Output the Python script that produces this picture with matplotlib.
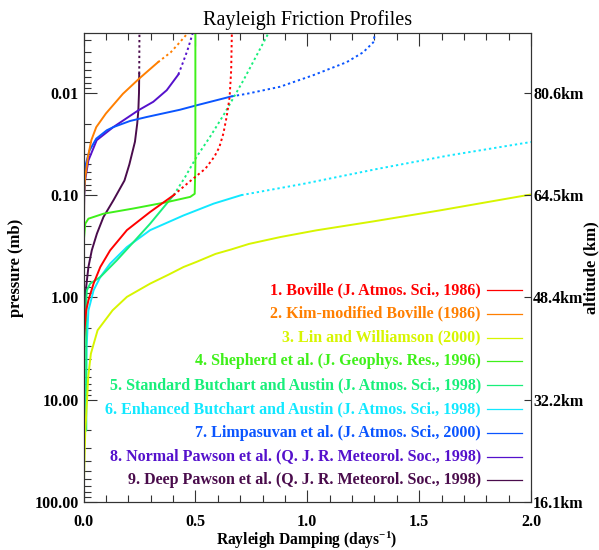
import numpy as np
import matplotlib
matplotlib.use("Agg")
import matplotlib.pyplot as plt
from matplotlib.ticker import LogLocator, FuncFormatter, NullFormatter, MultipleLocator

plt.rcParams['font.family'] = ['Liberation Serif', 'DejaVu Serif']
plt.rcParams['mathtext.fontset'] = 'custom'
plt.rcParams['mathtext.rm'] = 'Liberation Serif:bold'
plt.rcParams['mathtext.it'] = 'Liberation Serif:bold'
plt.rcParams['mathtext.bf'] = 'Liberation Serif:bold'

# ---- profiles: pressure (mb) and damping rate (1/day) ----
# each profile is solid below its model top and dotted above it
labels = [
    "1. Boville (J. Atmos. Sci., 1986)",
    "2. Kim-modified Boville (1986)",
    "3. Lin and Williamson (2000)",
    "4. Shepherd et al. (J. Geophys. Res., 1996)",
    "5. Standard Butchart and Austin (J. Atmos. Sci., 1998)",
    "6. Enhanced Butchart and Austin (J. Atmos. Sci., 1998)",
    "7. Limpasuvan et al. (J. Atmos. Sci., 2000)",
    "8. Normal Pawson et al. (Q. J. R. Meteorol. Soc., 1998)",
    "9. Deep Pawson et al. (Q. J. R. Meteorol. Soc., 1998)",
]
colors = ['#ff0000', '#ff7f00', '#d7f500', '#3ff01a', '#18ef7a',
          '#12e8ff', '#0a55ff', '#5511cc', '#4a0c4c']

p_boville = [100, 10, 3, 2, 1.34, 1.07, 0.734, 0.505, 0.347, 0.22, 0.146, 0.1,
             0.075, 0.055, 0.042, 0.034, 0.025, 0.017, 0.011, 0.006, 0.00261]
d_boville = [0, 0, 0, 0.005, 0.012, 0.022, 0.045, 0.075, 0.119, 0.194, 0.298, 0.403,
             0.47, 0.545, 0.585, 0.607, 0.625, 0.64, 0.653, 0.66, 0.663]
top_boville = 0.1

p_kim = [100, 1, 0.2, 0.1, 0.072, 0.042, 0.029, 0.0216, 0.0159, 0.0102, 0.0072,
         0.005, 0.004, 0.0032, 0.00261]
d_kim = [0, 0, 0.002, 0.003, 0.006, 0.02, 0.035, 0.057, 0.10, 0.176, 0.25,
         0.333, 0.39, 0.43, 0.465]
top_kim = 0.005

p_lin = [100, 50, 20, 10, 8.1, 6.0, 3.56, 2.1, 1.34, 0.99, 0.734, 0.6, 0.505,
         0.45, 0.376, 0.34, 0.3, 0.257, 0.221, 0.18, 0.141, 0.0985]
d_lin = [0.001, 0.003, 0.008, 0.016, 0.018, 0.021, 0.033, 0.063, 0.13, 0.194,
         0.298, 0.38, 0.447, 0.505, 0.59, 0.66, 0.74, 0.88, 1.041, 1.3, 1.593, 2.0]
top_lin = 0.0985

p_shep = [100, 1, 0.3, 0.19, 0.17, 0.152, 0.135, 0.117, 0.104, 0.097, 0.05,
          0.01, 0.00261]
d_shep = [0, 0, 0, 0.008, 0.022, 0.089, 0.224, 0.373, 0.477, 0.497, 0.5, 0.5, 0.5]
top_shep = 0.00261

p_std = [100, 21, 20, 10, 3, 1.5, 1.0, 0.854, 0.734, 0.633, 0.434, 0.287, 0.19,
         0.1, 0.066, 0.042, 0.027, 0.0159, 0.0075, 0.00261]
d_std = [0, 0, 0.012, 0.012, 0.012, 0.012, 0.013, 0.015, 0.030, 0.075, 0.149,
         0.224, 0.298, 0.403, 0.455, 0.506, 0.565, 0.63, 0.715, 0.826]
top_std = 0.1

p_enh = [100, 21, 20, 10, 3, 1.34, 1.15, 0.854, 0.633, 0.468, 0.322, 0.22, 0.158,
         0.121, 0.1, 0.077, 0.055, 0.041, 0.0302]
d_enh = [0, 0, 0.012, 0.012, 0.014, 0.022, 0.030, 0.045, 0.075, 0.119, 0.194,
         0.298, 0.447, 0.582, 0.705, 0.99, 1.32, 1.63, 2.0]
top_enh = 0.1

p_limp = [100, 1, 0.2, 0.1, 0.05, 0.0365, 0.028, 0.0232, 0.0216, 0.0188, 0.0172,
          0.0146, 0.0132, 0.0108, 0.0102, 0.0087, 0.0067, 0.005, 0.004, 0.0032,
          0.00261]
d_limp = [0, 0, 0.001, 0.003, 0.01, 0.027, 0.057, 0.104, 0.133, 0.208, 0.282,
          0.431, 0.506, 0.662, 0.729, 0.878, 1.027, 1.176, 1.25, 1.295, 1.303]
top_limp = 0.0108

p_pawn = [100, 1, 0.1, 0.072, 0.0457, 0.029, 0.0216, 0.0148, 0.0122, 0.0094,
          0.0066, 0.005, 0.0038, 0.00261]
d_pawn = [0, 0, 0.003, 0.007, 0.022, 0.059, 0.133, 0.245, 0.312, 0.372,
          0.424, 0.445, 0.465, 0.488]
top_pawn = 0.0066

p_pawd = [100, 5, 2, 1.15, 0.79, 0.505, 0.347, 0.238, 0.164, 0.112, 0.072,
          0.05, 0.03, 0.02, 0.015, 0.01, 0.0065, 0.00261]
d_pawd = [0, 0, 0.004, 0.008, 0.012, 0.022, 0.037, 0.06, 0.089, 0.134, 0.183,
          0.205, 0.23, 0.24, 0.245, 0.248, 0.249, 0.25]
top_pawd = 0.0065

profiles = [
    (p_boville, d_boville, top_boville),
    (p_kim, d_kim, top_kim),
    (p_lin, d_lin, top_lin),
    (p_shep, d_shep, top_shep),
    (p_std, d_std, top_std),
    (p_enh, d_enh, top_enh),
    (p_limp, d_limp, top_limp),
    (p_pawn, d_pawn, top_pawn),
    (p_pawd, d_pawd, top_pawd),
]

alt_ticks = [100, 10, 1, 0.1, 0.01]
p_top = 1000 * np.exp(-90 / 7.0)   # 90 km with 7 km scale height

fig = plt.figure(figsize=(5.99, 5.50), dpi=100)
ax = fig.add_axes([83.5 / 599, 1 - 501.7 / 550, 447.5 / 599, 468.4 / 550])

# draw the last profile first so that Boville ends up on top
for i in reversed(range(len(profiles))):
    p, d, top = profiles[i]
    p = np.array(p); d = np.array(d)
    lo = p >= top
    hi = p <= top
    ax.plot(d[lo], p[lo], color=colors[i], lw=1.4, zorder=3)
    if hi.sum() > 1:
        ax.plot(d[hi], p[hi], color=colors[i], lw=1.4, ls=(0, (1.2, 1.5)), zorder=3)

ax.set_yscale('log')
ax.set_ylim(100, p_top)
ax.set_xlim(0, 2)

ax.yaxis.set_major_locator(LogLocator(base=10, numticks=12))
ax.yaxis.set_minor_locator(LogLocator(base=10, subs=np.arange(2, 10), numticks=12))
ax.yaxis.set_major_formatter(FuncFormatter(lambda v, _: f"{v:.2f}"))
ax.yaxis.set_minor_formatter(NullFormatter())
ax.xaxis.set_major_locator(MultipleLocator(0.5))
ax.xaxis.set_minor_locator(MultipleLocator(0.1))
ax.xaxis.set_major_formatter(FuncFormatter(lambda v, _: f"{v:.1f}"))

ax.tick_params(which='both', direction='in', top=True, right=False, width=0.8,
               labelsize=11.5, colors='#333333', labelcolor='black')
ax.tick_params(which='major', length=9)
ax.tick_params(which='minor', length=5)
ax.tick_params(axis='x', pad=8.5)
for lab in ax.get_xticklabels() + ax.get_yticklabels():
    lab.set_fontweight('bold')
for s in ax.spines.values():
    s.set_color('#333333'); s.set_linewidth(0.8)

ax2 = ax.twinx()
ax2.set_yscale('log')
ax2.set_ylim(100, p_top)
ax2.set_yticks(alt_ticks)
ax2.set_yticklabels([f"{7 * np.log(1000 / v):.1f}km" for v in alt_ticks],
                    fontweight='bold', fontsize=11.5)
ax2.yaxis.set_minor_locator(plt.NullLocator())
ax2.tick_params(direction='in', length=5, width=0.8, colors='#333333',
                labelcolor='black', pad=1.5)
for s in ax2.spines.values():
    s.set_color('#333333'); s.set_linewidth(0.8)

ax.set_title('Rayleigh Friction Profiles', fontsize=14.5, pad=6)
fig.text(307 / 599, 1 - 540 / 550, r'Rayleigh Damping (days$^{-1}$)', ha='center',
         va='center', fontsize=11.2, fontweight='bold')
mid_y = 1 - 267.6 / 550
fig.text(16 / 599, mid_y, 'pressure (mb)', rotation=90, ha='center', va='center',
         fontsize=12, fontweight='bold')
fig.text(591 / 599, mid_y, 'altitude (km)', rotation=90, ha='center', va='center',
         fontsize=12, fontweight='bold')

# key in the lower right corner
for i, (lab, c) in enumerate(zip(labels, colors)):
    y = 0.452 - i * 0.0508
    ax.text(0.888, y, lab, transform=ax.transAxes, ha='right', va='center',
            color=c, fontsize=11.5, fontweight='bold', zorder=5)
    ax.plot([0.9017, 0.98], [y, y], transform=ax.transAxes, color=c, lw=0.9, zorder=5)

fig.savefig('out.png', dpi=100)
